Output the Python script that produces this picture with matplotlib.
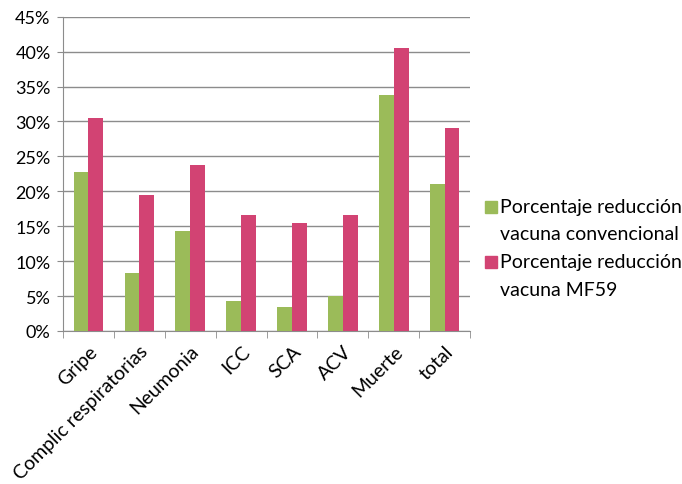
import matplotlib.pyplot as plt
import numpy as np
from matplotlib.patches import Rectangle
from matplotlib.ticker import PercentFormatter

categories = ['Gripe', 'Complic respiratorias', 'Neumonia', 'ICC', 'SCA', 'ACV', 'Muerte', 'total']
conventional = [22.8, 8.3, 14.3, 4.3, 3.4, 5.0, 33.8, 21.0]
mf59 = [30.5, 19.4, 23.8, 16.6, 15.4, 16.6, 40.5, 29.1]
series_labels = ['Porcentaje reducción\nvacuna convencional', 'Porcentaje reducción\nvacuna MF59']
colors = ['#9BBB59', '#D24373']
y_ticks = [0, 5, 10, 15, 20, 25, 30, 35, 40, 45]

plt.rcParams['font.family'] = ['Lato', 'DejaVu Sans']

W, H = 682, 485
fig = plt.figure(figsize=(W / 100, H / 100), dpi=100)
ax = fig.add_axes([0.0924, 0.3155, 0.597, 0.648])

x = np.arange(len(categories))
w = 0.29
ax.bar(x - w / 2, conventional, w, color=colors[0], zorder=3)
ax.bar(x + w / 2, mf59, w, color=colors[1], zorder=3)

ax.set_xlim(-0.5, len(categories) - 0.5)
ax.set_ylim(0, 45)
ax.set_yticks(y_ticks)
ax.yaxis.set_major_formatter(PercentFormatter(decimals=0))
ax.grid(axis='y', color='#8c8c8c', linewidth=1, zorder=0)

# category labels at centres, tick marks at boundaries
ax.set_xticks(x)
ax.set_xticklabels(categories, rotation=45, ha='right', rotation_mode='anchor', fontsize=14)
ax.tick_params(axis='x', length=0, pad=8)
ax.set_xticks(np.arange(len(categories) + 1) - 0.5, minor=True)
ax.tick_params(axis='x', which='minor', length=5, color='#8c8c8c')
ax.tick_params(axis='y', length=4, color='#8c8c8c', labelsize=13, pad=5)

for side in ['top', 'right']:
    ax.spines[side].set_visible(False)
for side in ['left', 'bottom']:
    ax.spines[side].set_color('#8c8c8c')

# legend drawn by hand: square + two text lines per entry (pixel layout)
for i, (label, c) in enumerate(zip(series_labels, colors)):
    y0 = 208 + i * 55
    fig.patches.append(Rectangle((485 / W, 1 - (y0 + 6) / H), 12 / W, 12 / H,
                                 transform=fig.transFigure, color=c))
    for j, line in enumerate(label.split('\n')):
        fig.text(500 / W, 1 - (y0 + j * 27) / H, line, fontsize=14, va='center', ha='left')

fig.savefig('out.png', dpi=100)
